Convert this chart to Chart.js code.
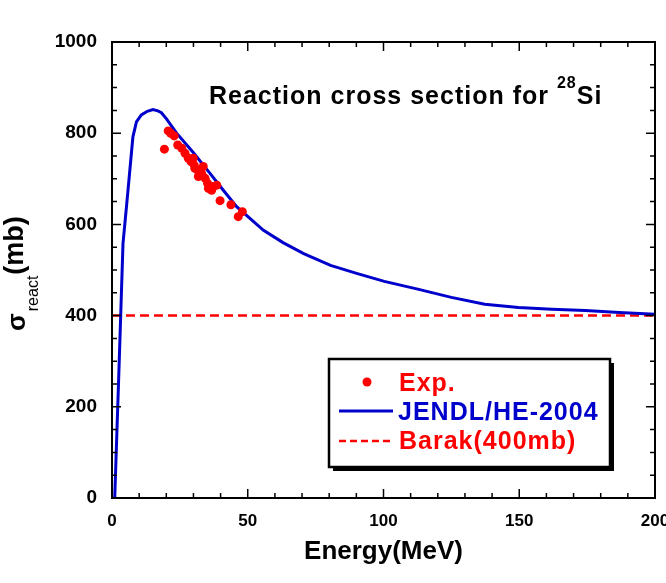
<!DOCTYPE html>
<html>
<head>
<meta charset="utf-8">
<script src="https://cdn.jsdelivr.net/npm/chart.js@4.4.0/dist/chart.umd.min.js"></script>
<style>
  html, body { margin: 0; padding: 0; background: #fff; }
</style>
</head>
<body>
<canvas id="sigma_chart" width="666" height="583"></canvas>
<script>
const ctx = document.querySelector('#sigma_chart')

// JENDL/HE-2004 curve
const jendlEnergy = [1, 2.6, 4.05, 5.9, 7.7, 9.0, 10.8, 13, 15.1, 16.9, 18.2, 20, 23.8, 30, 36.1, 41, 45.9, 50.8, 55.8, 63, 70.6, 80.5, 90.4, 100.3, 112.6, 125, 137.3, 149.7, 162, 174.4, 186.8, 200];
const jendlSigma  = [0, 288, 558, 675, 792, 825, 840, 848, 852, 849, 845, 832, 800, 757, 712, 675, 639, 613, 587, 560, 536, 510, 492, 475, 458, 440, 425, 418, 414, 411, 407, 403];

// experimental points
const expEnergy = [19.3, 20.7, 21.6, 22.9, 24.2, 25.7, 26.9, 28.1, 29.1, 29.9, 30.3, 30.5, 31.6, 31.8, 33.0, 33.6, 34.3, 35.2, 35.5, 36.7, 37.3, 38.6, 39.8, 43.8, 46.5, 48.0];
const expSigma  = [765, 805, 800, 794, 774, 767, 756, 745, 738, 745, 730, 723, 719, 705, 712, 727, 701, 690, 679, 675, 683, 686, 652, 643, 617, 628];

// Barak constant
const barakEnergy = [0, 200];
const barakSigma = [400, 400];

const xTickLabels = [0, 50, 100, 150, 200];
const yTickLabels = [0, 200, 400, 600, 800, 1000];

const FONT = '"Liberation Sans", Arial, sans-serif';
const RED = '#ff0000';
const BLUE = '#0000cc';

const toPoints = (xs, ys) => xs.map((x, i) => ({ x: x, y: ys[i] }));

const data = {
    datasets: [
        {
            label: 'Exp.',
            data: toPoints(expEnergy, expSigma),
            backgroundColor: RED,
            borderColor: RED,
            borderWidth: 0,
            pointRadius: 4.5,
            showLine: false
        },
        {
            label: 'JENDL/HE-2004',
            data: toPoints(jendlEnergy, jendlSigma),
            borderColor: BLUE,
            backgroundColor: BLUE,
            borderWidth: 3,
            pointRadius: 0,
            showLine: true,
            tension: 0
        },
        {
            label: 'Barak(400mb)',
            data: toPoints(barakEnergy, barakSigma),
            borderColor: RED,
            backgroundColor: RED,
            borderWidth: 2.5,
            borderDash: [9, 5],
            pointRadius: 0,
            showLine: true
        }
    ]
};

// frame, inward ticks, title, y title and legend
const decor = {
    id: 'decor',
    afterDraw(chart) {
        const c = chart.ctx;
        const a = chart.chartArea;
        const xs = chart.scales.x;
        const ys = chart.scales.y;
        c.save();
        c.strokeStyle = '#000';
        c.lineWidth = 1.5;
        c.beginPath();
        xs.ticks.forEach(t => {
            const px = xs.getPixelForValue(t.value);
            const len = t.value % 50 === 0 ? 9 : 5;
            c.moveTo(px, a.bottom); c.lineTo(px, a.bottom - len);
            c.moveTo(px, a.top); c.lineTo(px, a.top + len);
        });
        ys.ticks.forEach(t => {
            const py = ys.getPixelForValue(t.value);
            const len = t.value % 200 === 0 ? 9 : 5;
            c.moveTo(a.left, py); c.lineTo(a.left + len, py);
            c.moveTo(a.right, py); c.lineTo(a.right - len, py);
        });
        c.stroke();
        c.lineWidth = 2;
        c.strokeRect(a.left, a.top, a.right - a.left, a.bottom - a.top);

        // title with superscript
        c.fillStyle = '#000';
        c.textBaseline = 'alphabetic';
        c.textAlign = 'left';
        c.letterSpacing = '1px';
        let tx = 209;
        c.font = 'bold 25px ' + FONT;
        const t1 = 'Reaction cross section for ';
        c.fillText(t1, tx, 104);
        tx += c.measureText(t1).width;
        c.font = 'bold 16px ' + FONT;
        c.fillText('28', tx, 88);
        tx += c.measureText('28').width;
        c.font = 'bold 25px ' + FONT;
        c.fillText('Si', tx, 104);
        c.letterSpacing = '0px';

        // y axis title, rotated
        c.save();
        c.translate(25, 331);
        c.rotate(-Math.PI / 2);
        let lx = 0;
        c.font = 'bold 26px ' + FONT;
        c.fillText('σ', lx, 0);
        lx += c.measureText('σ').width + 2;
        c.font = '16px ' + FONT;
        c.fillText('react', lx, 13);
        lx += c.measureText('react').width + 1;
        c.font = 'bold 27px ' + FONT;
        c.fillText('(mb)', lx, -2);
        c.restore();

        // legend box with shadow
        const bx = 329, by = 359, bw = 281, bh = 108;
        c.fillStyle = '#000';
        c.fillRect(bx + 4, by + 4, bw, bh);
        c.fillStyle = '#fff';
        c.fillRect(bx, by, bw, bh);
        c.lineWidth = 2.5;
        c.strokeStyle = '#000';
        c.strokeRect(bx, by, bw, bh);

        const ds = chart.data.datasets;
        c.font = 'bold 25px ' + FONT;
        c.letterSpacing = '1px';
        c.textBaseline = 'middle';
        // Exp.
        c.fillStyle = ds[0].backgroundColor;
        c.beginPath();
        c.arc(367, 382, 4.5, 0, Math.PI * 2);
        c.fill();
        c.fillText(ds[0].label, 399, 384);
        // JENDL
        c.strokeStyle = ds[1].borderColor;
        c.lineWidth = 3;
        c.beginPath();
        c.moveTo(339, 411); c.lineTo(393, 411);
        c.stroke();
        c.fillStyle = ds[1].borderColor;
        c.fillText(ds[1].label, 398, 413);
        // Barak
        c.strokeStyle = ds[2].borderColor;
        c.lineWidth = 2.5;
        c.setLineDash([7, 4]);
        c.beginPath();
        c.moveTo(339, 441); c.lineTo(393, 441);
        c.stroke();
        c.setLineDash([]);
        c.fillStyle = ds[2].borderColor;
        c.fillText(ds[2].label, 399, 442);
        c.letterSpacing = '0px';
        c.restore();
    }
};

const options = {
    responsive: false,
    animation: false,
    layout: {
        padding: { top: 42, right: 11, left: 0, bottom: 0 }
    },
    plugins: {
        legend: false,
        tooltip: { enabled: false }
    },
    scales: {
        x: {
            type: 'linear',
            min: 0,
            max: 200,
            grid: { drawOnChartArea: false, drawTicks: false },
            border: { display: false },
            ticks: {
                stepSize: 10,
                autoSkip: false,
                maxRotation: 0,
                padding: 13,
                color: '#000',
                font: { family: FONT, size: 17, weight: 'bold' },
                callback: value => xTickLabels.includes(value) ? String(value) : ''
            },
            title: {
                display: true,
                text: 'Energy(MeV)',
                color: '#000',
                font: { family: FONT, size: 26, weight: 'bold' },
                padding: { top: 0, bottom: 16 }
            },
            afterFit: scale => {
                scale.height = 85;
                scale.paddingLeft = 0;
                scale.paddingRight = 0;
            }
        },
        y: {
            type: 'linear',
            min: 0,
            max: 1000,
            grid: { drawOnChartArea: false, drawTicks: false },
            border: { display: false },
            ticks: {
                stepSize: 50,
                autoSkip: false,
                padding: 15,
                color: '#000',
                font: { family: FONT, size: 19, weight: 'bold' },
                callback: value => yTickLabels.includes(value) ? String(value) : ''
            },
            afterFit: scale => {
                scale.width = 112;
                scale.paddingTop = 0;
                scale.paddingBottom = 0;
            }
        }
    }
}

new Chart(ctx, {
    type: 'scatter',
    data: data,
    options: options,
    plugins: [decor]
})
</script>
</body>
</html>
